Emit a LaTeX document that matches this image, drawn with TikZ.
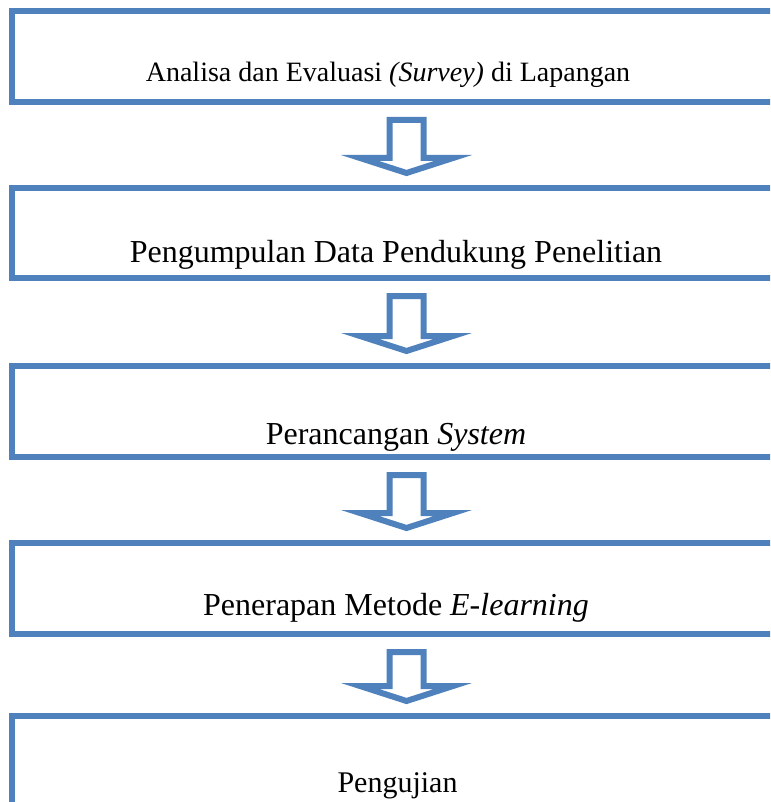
\documentclass[tikz,border=0pt]{standalone}
\usepackage{fontspec}
\setmainfont{Liberation Serif}
\usetikzlibrary{calc}
\definecolor{boxblue}{HTML}{4F81BD}

\newcommand{\flowarrow}[2]{%
  \draw[arrowline] ($(#1.south)+(-11.5,15)$) -- ($(#1.south)+(22.5,15)$)
    -- ($(#2.north)+(22.5,-27)$) -- ($(#2.north)+(52,-27)$)
    -- ($(#2.north)+(5.5,-12)$) -- ($(#2.north)+(-41,-27)$)
    -- ($(#2.north)+(-11.5,-27)$) -- cycle;}

\begin{document}
\begin{tikzpicture}[x=1pt,y=-1pt,
  stepbox/.style={draw=boxblue, line width=6pt, minimum width=778pt, minimum height=91pt, inner sep=0pt},
  arrowline/.style={draw=boxblue, fill=white, line width=6pt, line join=miter},
  steptext/.style={anchor=base, inner sep=0pt, font=\fontsize{32}{38}\selectfont}]
\useasboundingbox (0,0) rectangle (770,802);
\clip (0,0) rectangle (770,802);
% texts first, the borders cover the descenders
\node[steptext, font=\fontsize{28}{33}\selectfont] (t1) at (388,82) {Analisa dan Evaluasi \textit{(Survey)} di Lapangan};
\node[steptext] (t2) at (396,262) {Pengumpulan Data Pendukung Penelitian};
\node[steptext] (t3) at (396,444) {Perancangan \textit{System}};
\node[steptext] (t4) at (396,615) {Penerapan Metode \textit{E-learning}};
\node[steptext, font=\fontsize{30}{36}\selectfont] (t5) at (397.5,792) {Pengujian};
% boxes
\node[stepbox] (b1) at (401,56.5) {};
\node[stepbox, minimum height=90pt] (b2) at (401,233) {};
\node[stepbox] (b3) at (401,411.5) {};
\node[stepbox] (b4) at (401,588.5) {};
\node[stepbox] (b5) at (401,761.5) {};
% arrows
\foreach \a/\b in {b1/b2,b2/b3,b3/b4,b4/b5}{
  \flowarrow{\a}{\b}
}
\end{tikzpicture}
\end{document}
